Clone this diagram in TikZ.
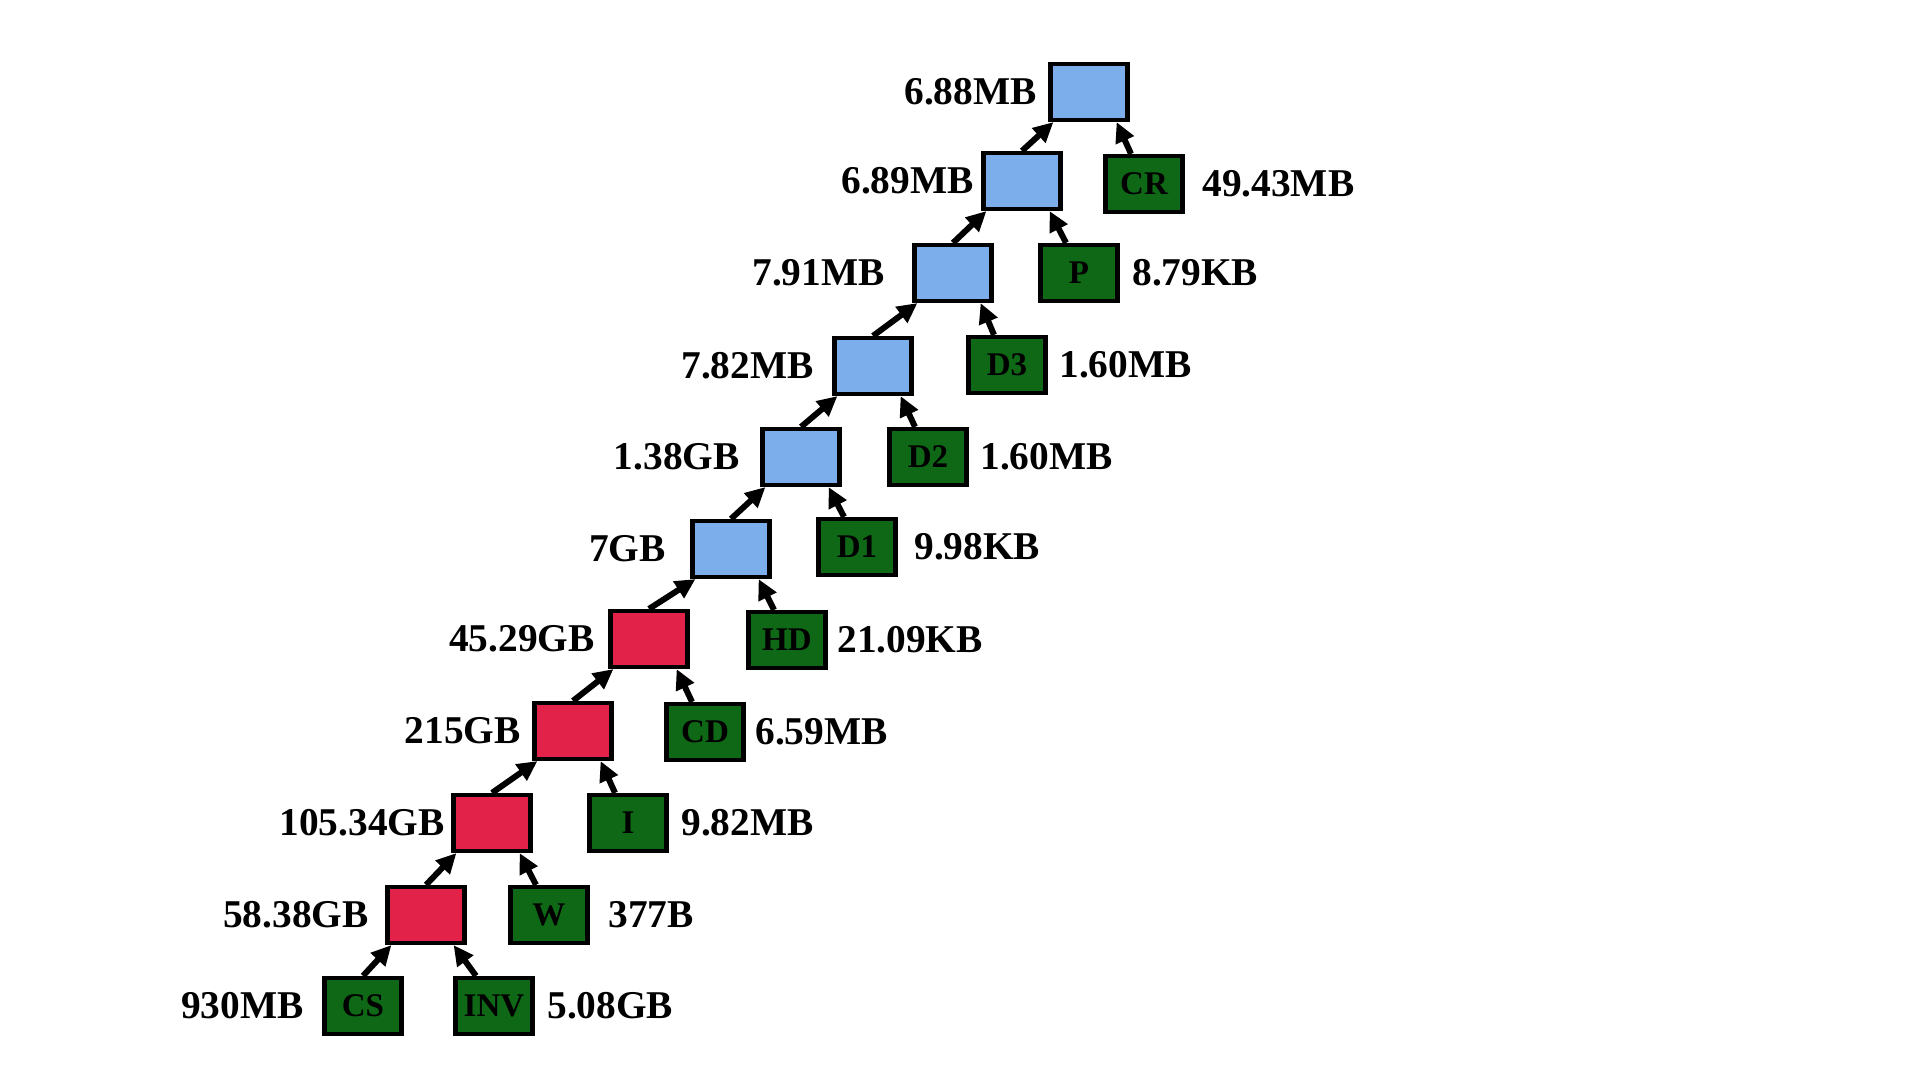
\documentclass[tikz,border=0pt]{standalone}
\usepackage{fontspec}
\setmainfont{Liberation Serif}
\usepackage{xcolor}
\usetikzlibrary{arrows.meta,positioning}

\definecolor{joinblue}{RGB}{123,174,235}
\definecolor{joinred}{RGB}{227,34,74}
\definecolor{tablegreen}{RGB}{14,104,22}

\tikzset{
    opbox/.style={draw=black, line width=1.2pt, minimum width=0.77cm, minimum height=0.56cm, inner sep=0pt},
    joinb/.style={opbox, fill=joinblue},
    joinr/.style={opbox, fill=joinred},
    tbl/.style={opbox, fill=tablegreen, font=\fontsize{9.4}{10}\selectfont\bfseries},
    sz/.style={inner sep=0pt, font=\fontsize{11.2}{13}\selectfont\bfseries},
    flow/.style={line width=1.7pt, -{Triangle[length=0.2cm,width=0.19cm]}}
}

\begin{document}
\begin{tikzpicture}
        \useasboundingbox (0,0) rectangle (19.2,10.8);

        % Join chain (bottom to top)
        \node[joinr] (j10) at (4.26,1.65) {};
        \node[joinr] (j9) at (4.92,2.57) {};
        \node[joinr] (j8) at (5.73,3.49) {};
        \node[joinr] (j7) at (6.49,4.41) {};
        \node[joinb] (j6) at (7.31,5.31) {};
        \node[joinb] (j5) at (8.01,6.23) {};
        \node[joinb] (j4) at (8.73,7.14) {};
        \node[joinb] (j3) at (9.53,8.07) {};
        \node[joinb] (j2) at (10.22,8.99) {};
        \node[joinb] (j1) at (10.89,9.88) {};

        % Tables
        \node[tbl] (cs) at (3.63,0.74) {CS};
        \node[tbl] (inv) at (4.94,0.74) {INV};
        \node[tbl] (w) at (5.49,1.65) {W};
        \node[tbl] (i) at (6.28,2.57) {I};
        \node[tbl] (cd) at (7.05,3.48) {CD};
        \node[tbl] (hd) at (7.87,4.40) {HD};
        \node[tbl] (d1) at (8.57,5.33) {D1};
        \node[tbl] (d2) at (9.28,6.23) {D2};
        \node[tbl] (d3) at (10.07,7.15) {D3};
        \node[tbl] (p) at (10.79,8.07) {P};
        \node[tbl] (cr) at (11.44,8.96) {CR};

        % Sizes of intermediate results
        \node[sz, left=0.11cm of j1] (s1) {6.88MB};
        \node[sz, left=0.07cm of j2] (s2) {6.89MB};
        \node[sz, left=0.27cm of j3] (s3) {7.91MB};
        \node[sz, left=0.18cm of j4] (s4) {7.82MB};
        \node[sz, left=0.20cm of j5] (s5) {1.38GB};
        \node[sz, left=0.24cm of j6] (s6) {7GB};
        \node[sz, left=0.13cm of j7] (s7) {45.29GB};
        \node[sz, left=0.11cm of j8] (s8) {215GB};
        \node[sz, left=0.06cm of j9] (s9) {105.34GB};
        \node[sz, left=0.16cm of j10] (s10) {58.38GB};

        % Sizes of tables
        \node[sz, left=0.18cm of cs] (tcs) {930MB};
        \node[sz, right=0.12cm of inv] (tinv) {5.08GB};
        \node[sz, right=0.18cm of w] (tw) {377B};
        \node[sz, right=0.12cm of i] (ti) {9.82MB};
        \node[sz, right=0.09cm of cd] (tcd) {6.59MB};
        \node[sz, right=0.09cm of hd] (thd) {21.09KB};
        \node[sz, right=0.16cm of d1] (td1) {9.98KB};
        \node[sz, right=0.11cm of d2] (td2) {1.60MB};
        \node[sz, right=0.11cm of d3] (td3) {1.60MB};
        \node[sz, right=0.12cm of p] (tp) {8.79KB};
        \node[sz, right=0.17cm of cr] (tcr) {49.43MB};

        % Left inputs
        \draw[flow] (cs.north) -- ([xshift=0.06cm]j10.south west);
        \draw[flow] (j10.north) -- ([xshift=0.05cm]j9.south west);
        \draw[flow] (j9.north) -- ([xshift=0.05cm]j8.south west);
        \draw[flow] (j8.north) -- ([xshift=0.05cm]j7.south west);
        \draw[flow] (j7.north) -- ([xshift=0.05cm]j6.south west);
        \draw[flow] (j6.north) -- ([xshift=0.05cm]j5.south west);
        \draw[flow] (j5.north) -- ([xshift=0.05cm]j4.south west);
        \draw[flow] (j4.north) -- ([xshift=0.05cm]j3.south west);
        \draw[flow] (j3.north) -- ([xshift=0.05cm]j2.south west);
        \draw[flow] (j2.north) -- ([xshift=0.05cm]j1.south west);

        % Right inputs
        \draw[flow] ([xshift=-0.18cm]inv.north) -- ([xshift=-0.13cm]j10.south east);
        \draw[flow] ([xshift=-0.13cm]w.north) -- ([xshift=-0.13cm]j9.south east);
        \draw[flow] ([xshift=-0.13cm]i.north) -- ([xshift=-0.13cm]j8.south east);
        \draw[flow] ([xshift=-0.13cm]cd.north) -- ([xshift=-0.13cm]j7.south east);
        \draw[flow] ([xshift=-0.13cm]hd.north) -- ([xshift=-0.13cm]j6.south east);
        \draw[flow] ([xshift=-0.13cm]d1.north) -- ([xshift=-0.13cm]j5.south east);
        \draw[flow] ([xshift=-0.13cm]d2.north) -- ([xshift=-0.13cm]j4.south east);
        \draw[flow] ([xshift=-0.13cm]d3.north) -- ([xshift=-0.13cm]j3.south east);
        \draw[flow] ([xshift=-0.13cm]p.north) -- ([xshift=-0.13cm]j2.south east);
        \draw[flow] ([xshift=-0.13cm]cr.north) -- ([xshift=-0.13cm]j1.south east);
    \end{tikzpicture}
\end{document}
